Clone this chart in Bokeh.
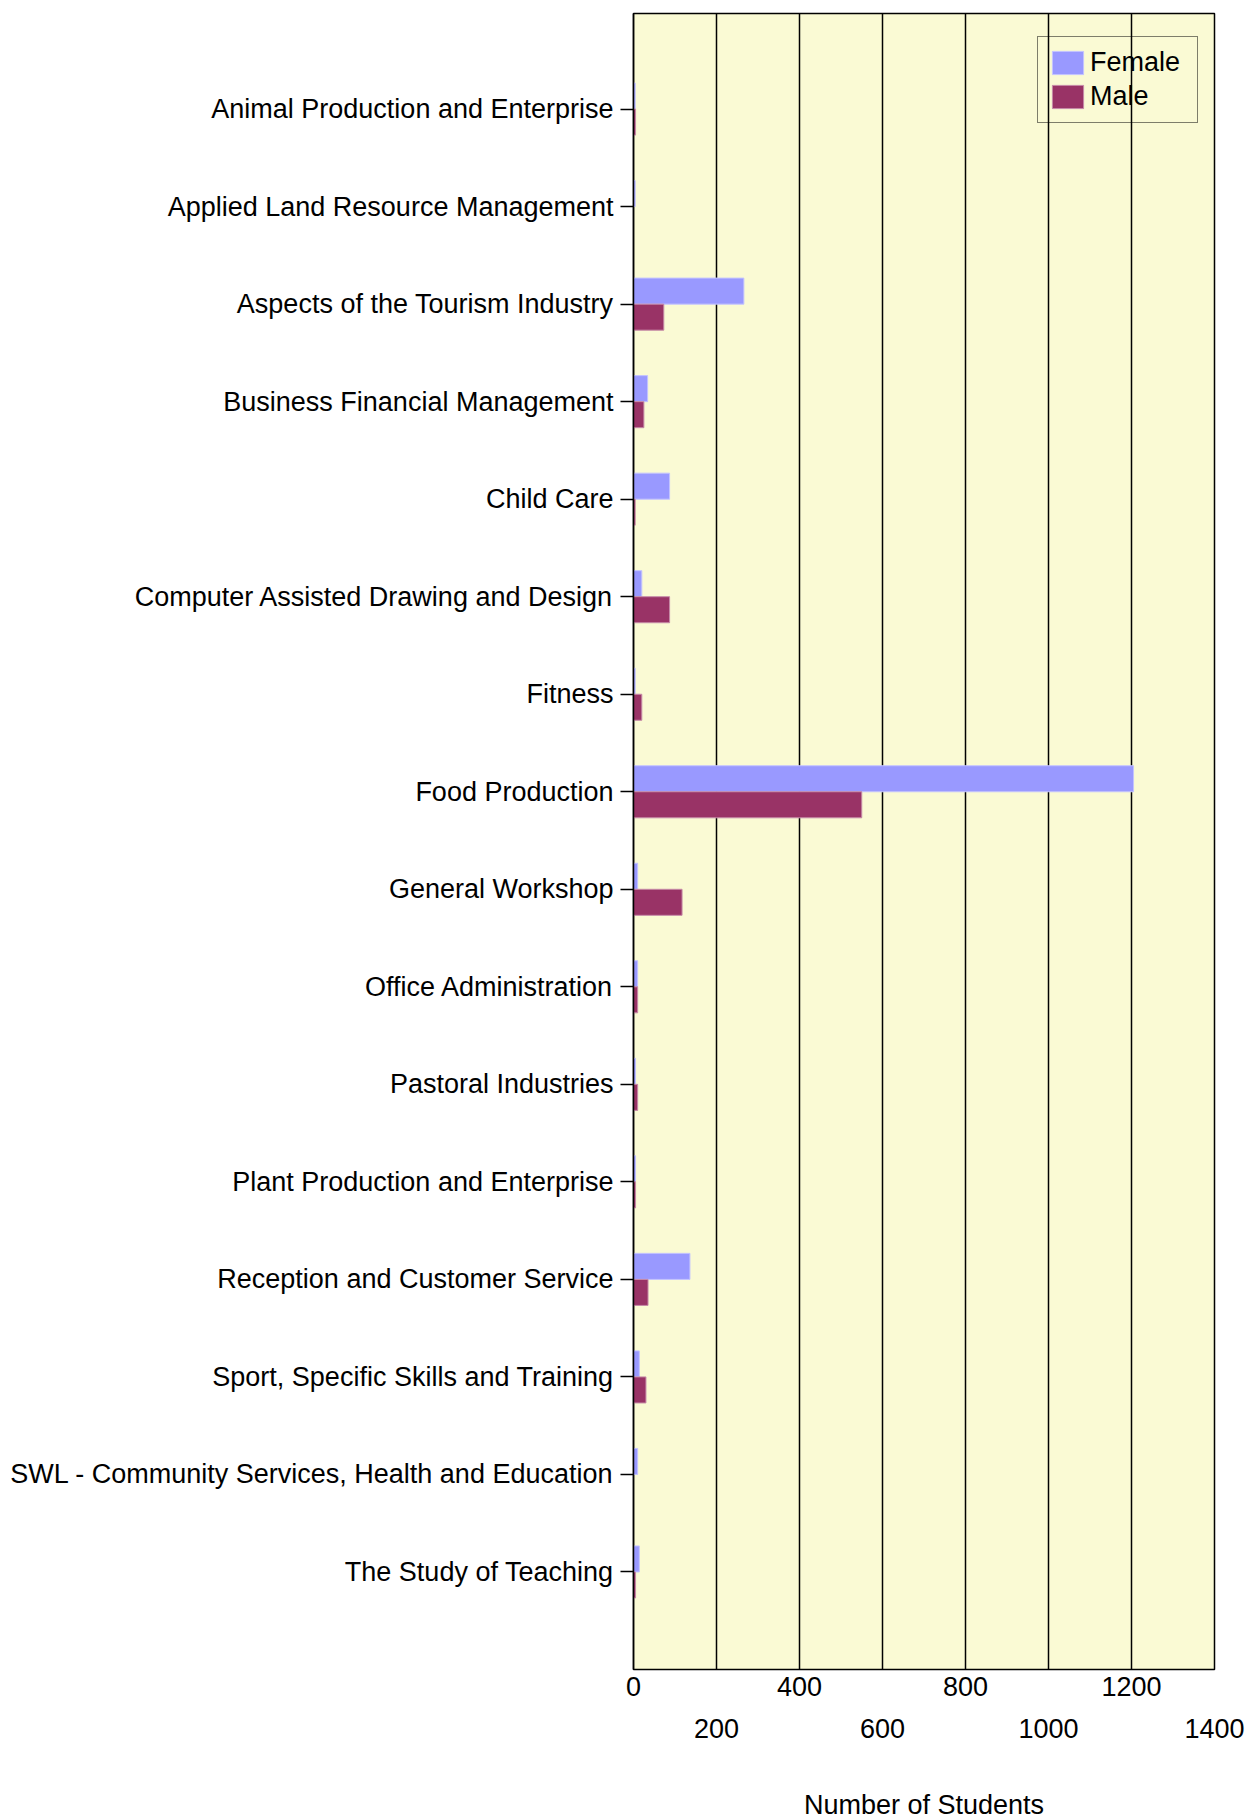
from bokeh.plotting import figure
from bokeh.models import (ColumnDataSource, Range1d, FixedTicker, LinearAxis,
                          Legend, LegendItem)
from bokeh.transform import dodge
from bokeh.embed import file_html
from bokeh.resources import INLINE

categories = [
    "Animal Production and Enterprise",
    "Applied Land Resource Management",
    "Aspects of the Tourism Industry",
    "Business Financial Management",
    "Child Care",
    "Computer Assisted Drawing and Design",
    "Fitness",
    "Food Production",
    "General Workshop",
    "Office Administration",
    "Pastoral Industries",
    "Plant Production and Enterprise",
    "Reception and Customer Service",
    "Sport, Specific Skills and Training",
    "SWL - Community Services, Health and Education",
    "The Study of Teaching",
]
female = [4, 4, 266, 34, 87, 20, 4, 1205, 10, 10, 5, 5, 136, 14, 10, 14]
male = [5, 0, 73, 25, 4, 87, 20, 550, 117, 10, 10, 5, 35, 30, 0, 5]
ticks_row1 = [0, 400, 800, 1200]
ticks_row2 = [200, 600, 1000, 1400]
grid_ticks = [200, 400, 600, 800, 1000, 1200]

FONT = "Liberation Sans"
FS = "27px"

pos = list(range(len(categories)))
src = ColumnDataSource(dict(y=pos, female=female, male=male))

p = figure(
    frame_width=581, frame_height=1656,
    min_border_left=633, min_border_top=13, min_border_right=32, min_border_bottom=135,
    x_range=Range1d(0, 1400), y_range=Range1d(16.0, -0.98),
    output_backend="svg", toolbar_location=None,
    background_fill_color="#FAFAD4", border_fill_color="white",
)
p.outline_line_color = "black"
p.outline_line_width = 1.5

bh = 0.267
rf = p.hbar(y=dodge("y", -bh / 2, range=p.y_range), right="female", left=0, height=bh,
            source=src, fill_color="#9999FF", line_color="#C4C4FF", line_width=1)
rm = p.hbar(y=dodge("y", bh / 2, range=p.y_range), right="male", left=0, height=bh,
            source=src, fill_color="#993366", line_color="#C68AA8", line_width=1)

# x axis row 1
xa = p.xaxis[0]
xa.ticker = FixedTicker(ticks=ticks_row1)
xa.major_tick_out = 0
xa.major_tick_in = 0
xa.minor_tick_out = 0
xa.minor_tick_in = 0
xa.axis_line_color = None
xa.major_label_text_font = FONT
xa.major_label_text_font_size = FS
xa.major_label_text_color = "black"
xa.major_label_standoff = 7

# x axis row 2
xa2 = LinearAxis(ticker=FixedTicker(ticks=ticks_row2))
xa2.major_tick_out = 0
xa2.major_tick_in = 0
xa2.minor_tick_out = 0
xa2.minor_tick_in = 0
xa2.axis_line_color = None
xa2.major_label_text_font = FONT
xa2.major_label_text_font_size = FS
xa2.major_label_text_color = "black"
xa2.major_label_standoff = 20
xa2.axis_label = "Number of Students"
xa2.axis_label_text_font = FONT
xa2.axis_label_text_font_size = FS
xa2.axis_label_text_font_style = "normal"
xa2.axis_label_text_color = "black"
xa2.axis_label_standoff = 49
p.add_layout(xa2, "below")

# y axis
ya = p.yaxis[0]
ya.ticker = FixedTicker(ticks=pos)
ya.major_label_overrides = {i: c for i, c in zip(pos, categories)}
ya.major_tick_out = 13
ya.major_tick_in = 0
ya.minor_tick_out = 0
ya.minor_tick_in = 0
ya.major_tick_line_color = "black"
ya.major_tick_line_width = 1.5
ya.axis_line_color = "black"
ya.axis_line_width = 1.5
ya.major_label_text_font = FONT
ya.major_label_text_font_size = FS
ya.major_label_text_color = "black"
ya.major_label_standoff = 7

p.ygrid.visible = False
p.xgrid.ticker = FixedTicker(ticks=grid_ticks)
p.xgrid.grid_line_color = "black"
p.xgrid.grid_line_width = 1.5

legend = Legend(
    items=[LegendItem(label="Female", renderers=[rf]),
           LegendItem(label="Male", renderers=[rm])],
    location=(404, 1546),
    glyph_width=39, glyph_height=29,
    padding=10, spacing=3, margin=0, label_standoff=3, label_width=97,
    label_text_font=FONT, label_text_font_size=FS, label_text_color="black",
    background_fill_alpha=0, border_line_color="black", border_line_width=1.5,
)
p.add_layout(legend, "center")

open("out.html", "w").write(file_html(p, INLINE))
